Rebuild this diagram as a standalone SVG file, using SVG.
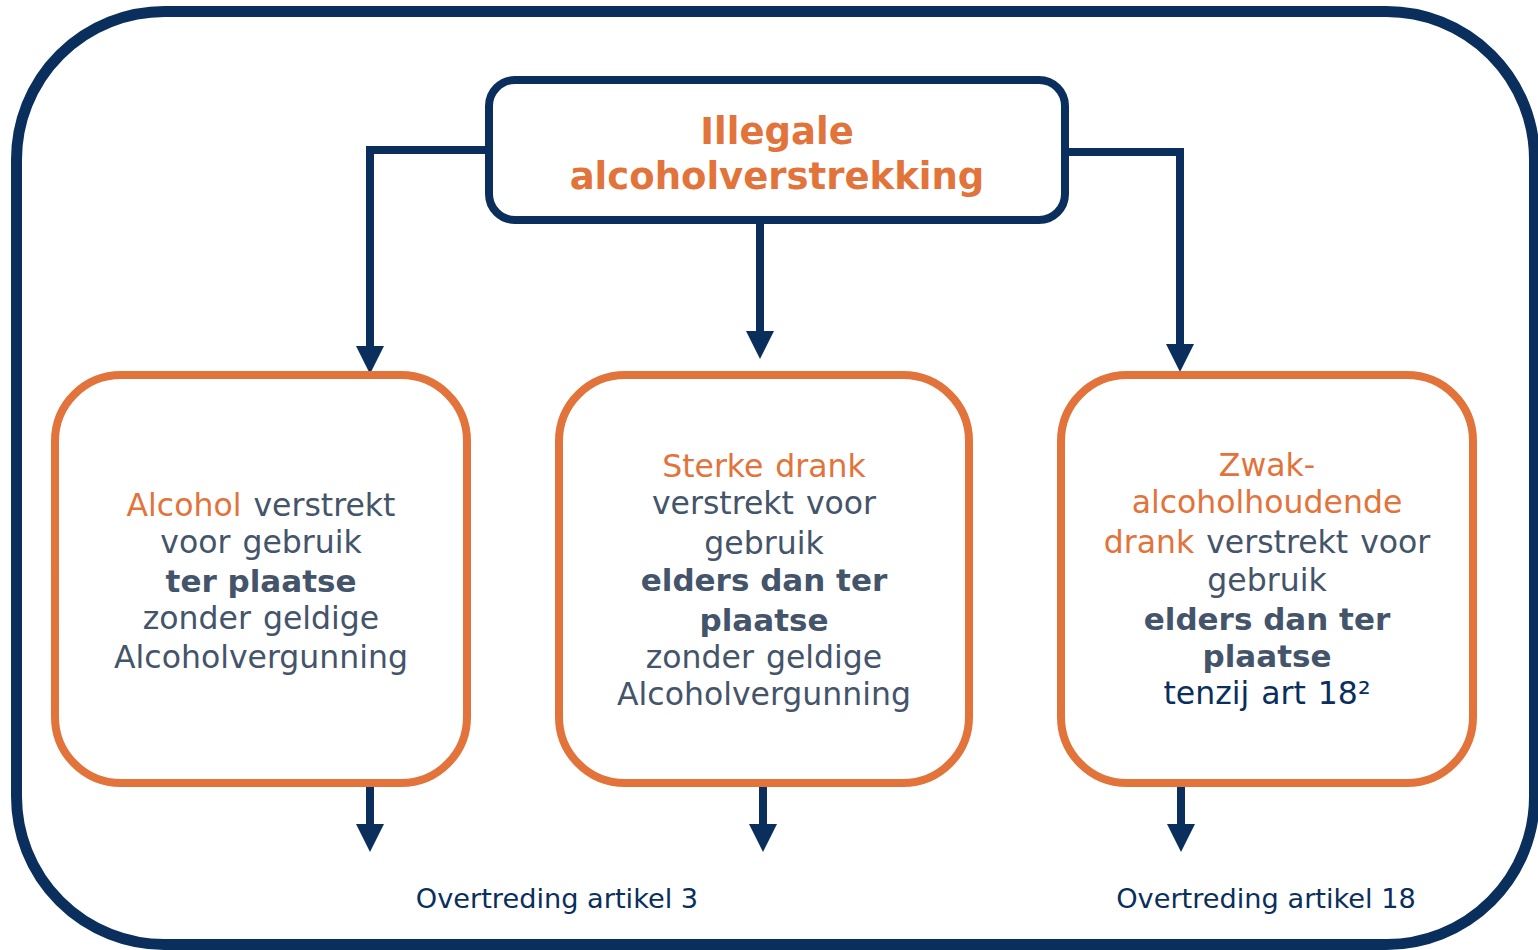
<svg xmlns="http://www.w3.org/2000/svg" width="1538" height="950" viewBox="0 0 1538 950">
<style>
  .frame{fill:#fff;stroke:#0A2F5C;stroke-width:11}
  .top{fill:#fff;stroke:#0A2F5C;stroke-width:8}
  .box{fill:#fff;stroke:#E2733A;stroke-width:8}
  .con{fill:none;stroke:#0A2F5C;stroke-width:8}
  text{font-family:"DejaVu Sans","Verdana",sans-serif;text-anchor:middle}
  .title{font-size:37px;font-weight:bold;fill:#E2733A}
  .body{font-size:31.5px;word-spacing:2px;fill:#44546A}
  .o{fill:#E2733A}
  .b{font-weight:bold;font-size:31px;word-spacing:0}
  .n{fill:#0A2F5C}
  .lbl{font-size:27.2px;fill:#0A2F5C}
</style>
<defs>
  <marker id="ah" markerUnits="userSpaceOnUse" markerWidth="28" markerHeight="28" viewBox="0 0 28 28" refX="1" refY="14" orient="auto">
    <path d="M0,0 L28,14 L0,28 z" fill="#0A2F5C"/>
  </marker>
</defs>
<rect x="0" y="0" width="1538" height="950" fill="#fff"/>
<rect id="frame" class="frame" x="16.5" y="11.5" width="1518" height="933" rx="148" ry="148"/>

<g id="connectors">
  <path class="con" d="M489,150 H370 V347" marker-end="url(#ah)"/>
  <path class="con" d="M760,220 V332" marker-end="url(#ah)"/>
  <path class="con" d="M1065,152 H1180 V345" marker-end="url(#ah)"/>
  <path class="con" d="M370,783 V825" marker-end="url(#ah)"/>
  <path class="con" d="M763,783 V825" marker-end="url(#ah)"/>
  <path class="con" d="M1181,783 V825" marker-end="url(#ah)"/>
</g>

<g id="node-top">
  <rect class="top" x="489" y="80" width="576" height="140" rx="26" ry="26"/>
  <text class="title"><tspan x="777" y="144">Illegale</tspan><tspan x="777" y="189">alcoholverstrekking</tspan></text>
</g>

<g id="node-left">
  <rect class="box" x="55" y="375" width="412" height="408" rx="66" ry="66"/>
  <text class="body"><tspan x="261" y="516"><tspan class="o">Alcohol</tspan> verstrekt</tspan><tspan x="261" y="553">voor gebruik</tspan><tspan x="261" y="592" class="b">ter plaatse</tspan><tspan x="261" y="629">zonder geldige</tspan><tspan x="261" y="668">Alcoholvergunning</tspan></text>
</g>

<g id="node-middle">
  <rect class="box" x="559" y="375" width="410" height="408" rx="66" ry="66"/>
  <text class="body"><tspan x="764" y="477" class="o">Sterke drank</tspan><tspan x="764" y="514">verstrekt voor</tspan><tspan x="764" y="554">gebruik</tspan><tspan x="764" y="591" class="b">elders dan ter</tspan><tspan x="764" y="631" class="b">plaatse</tspan><tspan x="764" y="668">zonder geldige</tspan><tspan x="764" y="705">Alcoholvergunning</tspan></text>
</g>

<g id="node-right">
  <rect class="box" x="1061" y="375" width="412" height="408" rx="66" ry="66"/>
  <text class="body"><tspan x="1267" y="476" class="o">Zwak-</tspan><tspan x="1267" y="513" class="o">alcoholhoudende</tspan><tspan x="1267" y="553"><tspan class="o">drank</tspan> verstrekt voor</tspan><tspan x="1267" y="591">gebruik</tspan><tspan x="1267" y="630" class="b">elders dan ter</tspan><tspan x="1267" y="667" class="b">plaatse</tspan><tspan x="1267" y="704" class="n">tenzij art 18²</tspan></text>
</g>

<g id="label-art3">
  <text class="lbl" x="557" y="908">Overtreding artikel 3</text>
</g>
<g id="label-art18">
  <text class="lbl" x="1266" y="908">Overtreding artikel 18</text>
</g>
</svg>
